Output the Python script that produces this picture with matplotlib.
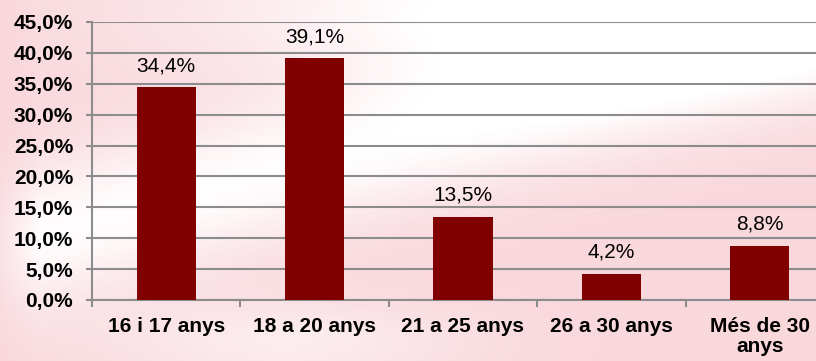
import numpy as np
import matplotlib.pyplot as plt
from matplotlib.ticker import FuncFormatter

plt.rcParams['font.family'] = ['Liberation Sans', 'DejaVu Sans']

categories = ["16 i 17 anys", "18 a 20 anys", "21 a 25 anys", "26 a 30 anys", "Més de 30\nanys"]
values = [34.4, 39.1, 13.5, 4.2, 8.8]
yticks = [0, 5, 10, 15, 20, 25, 30, 35, 40, 45]

fig = plt.figure(figsize=(8.16, 3.61), dpi=100)

# soft pink / white background
bg = fig.add_axes([0, 0, 1, 1], zorder=0)
yy, xx = np.mgrid[0:1:361j, 0:1:816j]
band = np.exp(-((yy - 0.5 + 0.6 * (xx - 0.3)) / 0.2) ** 2)
blob = np.exp(-(((xx - 0.65) / 0.4) ** 2 + ((yy - 0.02) / 0.22) ** 2))
low = np.exp(-(((xx - 0.35) / 0.22) ** 2 + ((yy - 0.95) / 0.12) ** 2))
w = np.clip(0.05 + 0.9 * band + 1.0 * blob + 0.5 * low, 0, 1)
w[:, :40] *= np.linspace(0.3, 1, 40)
pink = np.array([249, 214, 219]) / 255
img = pink[None, None, :] * (1 - w[..., None]) + w[..., None]
bg.imshow(img, aspect='auto', extent=[0, 1, 0, 1])
bg.axis('off')

ax = fig.add_axes([92 / 816, 61 / 361, 742 / 816, 278 / 361], zorder=1)
ax.patch.set_alpha(0)

x = np.arange(len(categories))
ax.bar(x, values, width=0.4, color='#800000', zorder=3)
for xi, v in zip(x, values):
    ax.text(xi, v + 2.0, f"{v:.1f}%".replace('.', ','), ha='center', va='bottom',
            fontsize=15, color='black')

ax.set_xlim(-0.5, len(categories) - 0.5)
ax.set_ylim(0, 45)
ax.set_yticks(yticks)
ax.yaxis.set_major_formatter(FuncFormatter(lambda v, p: f"{v:.1f}%".replace('.', ',')))
ax.yaxis.grid(True, color='#8c8c8c', linewidth=1.5, zorder=1)
ax.set_xticks(x)
ax.set_xticklabels(categories, fontsize=15, fontweight='bold', linespacing=1.1)
ax.set_xticks(np.arange(len(categories) + 1) - 0.5, minor=True)
ax.tick_params(axis='x', which='major', length=0, pad=12)
ax.tick_params(axis='x', which='minor', length=5, color='#8c8c8c', width=1.5)
ax.tick_params(axis='y', length=4.5, color='#8c8c8c', width=1.5, labelsize=15, pad=9)
for lab in ax.get_yticklabels():
    lab.set_fontweight('bold')

for side in ['top', 'right']:
    ax.spines[side].set_visible(False)
for side in ['left', 'bottom']:
    ax.spines[side].set_color('#8c8c8c')
    ax.spines[side].set_linewidth(1.5)

fig.savefig('out.png', dpi=100)
